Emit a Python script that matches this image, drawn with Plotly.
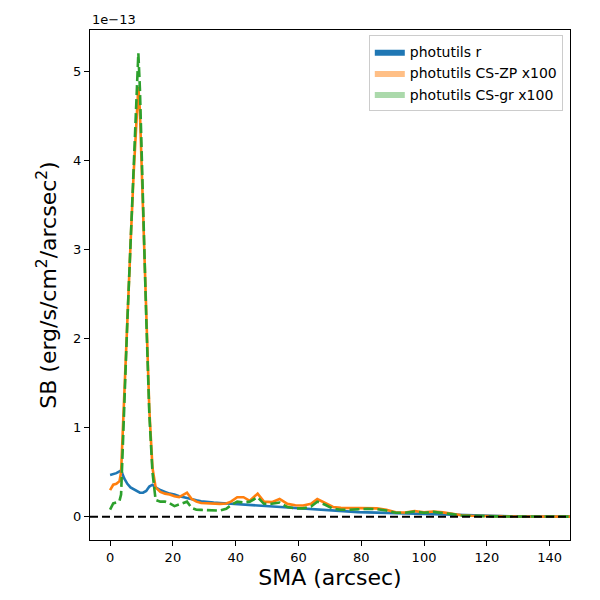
import plotly.graph_objects as go

# Surface brightness profiles, in units of 1e-13 erg/s/cm^2/arcsec^2
sma = [0, 1, 2, 3, 3.5, 4.5, 5.5, 6.5, 7.5, 8.5, 9, 9.5, 10.5, 11.5, 12.5, 13.5,
       14.5, 16, 17.5, 19, 20.5, 22, 23.5, 24.5, 26, 27.5, 29, 31, 33, 35, 37,
       38.5, 40.5, 42.5, 44.5, 47, 49, 51.5, 54, 56.5, 59, 61.5, 64, 66, 68.5,
       71, 73.5, 76, 79, 82, 85, 88, 91, 94, 97, 100, 103, 106, 109, 112, 115,
       118, 122, 126, 130, 135, 140, 145, 150, 155]

sb_r = [0.47, 0.48, 0.49, 0.51, 0.52, 0.43, 0.37, 0.33, 0.31, 0.29, 0.28, 0.27,
        0.27, 0.29, 0.34, 0.36, 0.33, 0.30, 0.28, 0.26, 0.25, 0.23, 0.22, 0.21,
        0.20, 0.185, 0.175, 0.165, 0.16, 0.155, 0.15, 0.146, 0.142, 0.138, 0.135,
        0.125, 0.12, 0.115, 0.11, 0.105, 0.10, 0.095, 0.09, 0.085, 0.075, 0.065,
        0.06, 0.056, 0.053, 0.05, 0.047, 0.043, 0.038, 0.034, 0.031, 0.028,
        0.025, 0.022, 0.019, 0.015, 0.011, 0.008, 0.006, 0.005, 0.004, 0.003,
        0.003, 0.002, 0.002, 0.002]

sb_cs_zp = [0.30, 0.36, 0.37, 0.40, 0.50, 1.40, 2.25, 3.05, 3.85, 4.50, 4.82,
            4.55, 3.35, 2.20, 1.20, 0.55, 0.33, 0.28, 0.26, 0.25, 0.23, 0.22,
            0.25, 0.27, 0.20, 0.17, 0.155, 0.15, 0.145, 0.145, 0.15, 0.17, 0.22,
            0.22, 0.18, 0.26, 0.17, 0.165, 0.20, 0.145, 0.13, 0.127, 0.145, 0.20,
            0.155, 0.11, 0.10, 0.098, 0.10, 0.10, 0.095, 0.08, 0.05, 0.048,
            0.065, 0.05, 0.06, 0.05, 0.035, 0.018, 0.012, 0.008, 0.006, 0.005,
            0.004, 0.003, 0.003, 0.002, 0.002, 0.002]

sb_cs_gr = [0.08, 0.15, 0.16, 0.18, 0.25, 1.30, 2.20, 3.05, 3.90, 4.85, 5.20,
            4.80, 3.45, 2.25, 1.15, 0.50, 0.19, 0.17, 0.17, 0.15, 0.12, 0.14,
            0.16, 0.17, 0.10, 0.08, 0.078, 0.075, 0.072, 0.07, 0.09, 0.13, 0.17,
            0.16, 0.17, 0.22, 0.146, 0.146, 0.16, 0.11, 0.095, 0.095, 0.115, 0.17,
            0.135, 0.09, 0.08, 0.078, 0.085, 0.09, 0.085, 0.07, 0.045, 0.045,
            0.06, 0.045, 0.055, 0.045, 0.03, 0.015, 0.01, 0.007, 0.005, 0.004,
            0.003, 0.003, 0.002, 0.002, 0.002, 0.002]

series = [
    ("photutils r", sb_r, "#1f77b4", "#1f77b4", "solid"),
    ("photutils CS-ZP x100", sb_cs_zp, "#ff7f0e", "rgba(255,127,14,0.5)", "solid"),
    ("photutils CS-gr x100", sb_cs_gr, "#2ca02c", "rgba(44,160,44,0.4)", "10px,4px"),
]

fig = go.Figure()

# zero-area fills, only so the legend shows filled patches
for name, vals, color, fill, dash in series:
    fig.add_trace(go.Scatter(x=sma, y=vals, mode="lines", line=dict(width=0),
                             showlegend=False, hoverinfo="skip"))
    fig.add_trace(go.Scatter(x=sma, y=vals, mode="lines", line=dict(width=0),
                             fill="tonexty", fillcolor=fill, name=name,
                             hoverinfo="skip"))

for name, vals, color, fill, dash in series:
    fig.add_trace(go.Scatter(x=sma, y=vals, mode="lines", showlegend=False,
                             line=dict(color=color, width=2.6, dash=dash),
                             name=name))

fig.add_hline(y=0, line=dict(color="black", width=2, dash="8px,4px"))

axis_style = dict(
    showgrid=False, zeroline=False, showline=True, linecolor="black",
    linewidth=1.2, mirror=True, ticks="outside", ticklen=5, tickcolor="black",
    tickfont=dict(size=13, color="black"),
)

# the page body adds an 8px offset, so margins are shifted by it
fig.update_layout(
    width=600, height=600,
    margin=dict(l=82, r=38, t=22, b=68),
    paper_bgcolor="white", plot_bgcolor="white",
    font=dict(family="DejaVu Sans", color="black"),
    xaxis=dict(range=[-6.4, 146.5], tickvals=[0, 20, 40, 60, 80, 100, 120, 140],
               title=dict(text="SMA (arcsec)", font=dict(size=22), standoff=5),
               **axis_style),
    yaxis=dict(range=[-0.26, 5.46], tickvals=[0, 1, 2, 3, 4, 5],
               title=dict(text="SB (erg/s/cm<sup>2</sup>/arcsec<sup>2</sup>)",
                          font=dict(size=22), standoff=10),
               **axis_style),
    legend=dict(x=0.985, y=0.99, xanchor="right", yanchor="top",
                traceorder="normal",
                bgcolor="rgba(255,255,255,0.8)", bordercolor="#cccccc",
                borderwidth=1, font=dict(size=14)),
    annotations=[dict(text="1e\u221213", x=0, y=1, xref="paper", yref="paper",
                      xanchor="left", yanchor="bottom", showarrow=False,
                      font=dict(size=13), yshift=1)],
)

fig.write_html("out.html")
